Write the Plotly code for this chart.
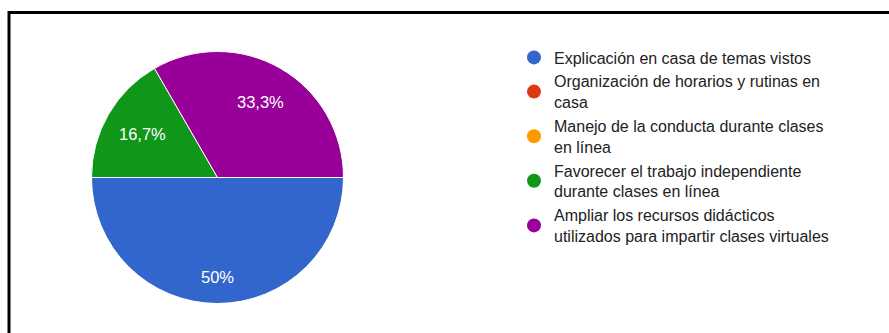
import math
import plotly.graph_objects as go

categories = [
    "Explicación en casa de temas vistos",
    "Organización de horarios y rutinas en<br>casa",
    "Manejo de la conducta durante clases<br>en línea",
    "Favorecer el trabajo independiente<br>durante clases en línea",
    "Ampliar los recursos didácticos<br>utilizados para impartir clases virtuales",
]
counts = [3, 0, 0, 1, 2]
colors = ["#3366cc", "#dc3912", "#ff9900", "#109618", "#990099"]

# style: radial placement of slice labels (fraction of radius)
label_radius = [0.79, 0.7, 0.7, 0.69, 0.69]

W, H = 889, 333
CX, CY, R = 217.5, 177.5, 126.0  # pie centre / radius in px
START = 90  # degrees clockwise from 12 o'clock

total = sum(counts)


def fmt(v):
    s = f"{v / total * 100:.1f}".replace(".", ",")
    if s.endswith(",0"):
        s = s[:-2]
    return s + "%"


fig = go.Figure()
fig.add_trace(go.Pie(
    labels=categories, values=counts,
    textinfo="none",
    sort=False, direction="clockwise", rotation=START,
    marker=dict(colors=colors, line=dict(color="white", width=1)),
    showlegend=False, hoverinfo="label+percent",
    domain=dict(x=[(CX - R) / W, (CX + R) / W], y=[(H - CY - R) / H, (H - CY + R) / H]),
))

annotations = []
cum = 0
for v, f in zip(counts, label_radius):
    if v > 0:
        theta = math.radians(START + 360 * (cum + v / 2) / total)
        px = CX + f * R * math.sin(theta)
        py = CY - f * R * math.cos(theta)
        annotations.append(dict(
            x=px / W, y=1 - py / H, xref="paper", yref="paper",
            text=fmt(v), showarrow=False,
            font=dict(color="white", size=16.5, family="Liberation Sans, Arial"),
            xanchor="center", yanchor="middle",
        ))
    cum += v

for i, (name, c) in enumerate(zip(categories, colors)):
    fig.add_trace(go.Scatter(
        x=[None], y=[None], mode="markers", name=name, legendgroup=f"g{i}",
        marker=dict(symbol="circle", size=14, color=c),
    ))

fig.update_layout(
    width=W, height=H,
    margin=dict(l=0, r=0, t=0, b=0),
    paper_bgcolor="white", plot_bgcolor="white",
    xaxis=dict(visible=False), yaxis=dict(visible=False),
    annotations=annotations,
    legend=dict(
        x=514 / W, y=1 - 40.5 / H, xanchor="left", yanchor="top",
        font=dict(family="Liberation Sans, Arial", size=16, color="#222222"),
        traceorder="grouped", tracegroupgap=0,
        bgcolor="rgba(0,0,0,0)",
    ),
    shapes=[
        dict(type="line", xref="paper", yref="paper", x0=9 / W, x1=1, y0=1 - 12.5 / H, y1=1 - 12.5 / H,
             line=dict(color="black", width=3)),
        dict(type="line", xref="paper", yref="paper", x0=9 / W, x1=9 / W, y0=0, y1=1 - 11 / H,
             line=dict(color="black", width=3)),
    ],
)
fig.write_html("out.html")
